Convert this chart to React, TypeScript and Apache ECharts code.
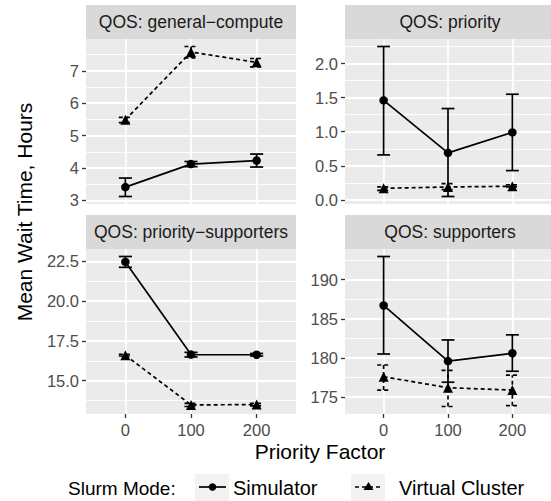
import React, { useEffect, useRef } from 'react';
import * as echarts from 'echarts';

const FONT = '"Liberation Sans", Arial, Helvetica, sans-serif';

// ---- data ----
const priorityFactors = [0, 100, 200];
const xTickValues = [0, 100, 200];
const panelTitles = ['QOS: general\u2212compute', 'QOS: priority', 'QOS: priority\u2212supporters', 'QOS: supporters'];
const seriesNames = ['Simulator', 'Virtual Cluster'];

// general-compute
const gcSimMean = [3.41, 4.12, 4.23];
const gcSimLow = [3.12, 4.04, 4.03];
const gcSimHigh = [3.69, 4.2, 4.43];
const gcVcMean = [5.49, 7.58, 7.26];
const gcVcLow = [5.4, 7.4, 7.12];
const gcVcHigh = [5.56, 7.75, 7.38];
// priority
const prSimMean = [1.46, 0.69, 0.99];
const prSimLow = [0.66, 0.05, 0.43];
const prSimHigh = [2.25, 1.34, 1.55];
const prVcMean = [0.17, 0.19, 0.2];
const prVcLow = [0.14, 0.15, 0.19];
const prVcHigh = [0.19, 0.24, 0.22];
// priority-supporters
const psSimMean = [22.46, 16.64, 16.63];
const psSimLow = [22.12, 16.49, 16.55];
const psSimHigh = [22.8, 16.78, 16.71];
const psVcMean = [16.6, 13.48, 13.5];
const psVcLow = [16.55, 13.38, 13.42];
const psVcHigh = [16.66, 13.58, 13.58];
// supporters
const suSimMean = [186.7, 179.6, 180.6];
const suSimLow = [180.5, 176.9, 178.3];
const suSimHigh = [192.95, 182.3, 182.95];
const suVcMean = [177.6, 176.2, 175.9];
const suVcLow = [175.9, 173.8, 173.9];
const suVcHigh = [179.1, 178.4, 177.8];

// tick values
const gcMajor = [3, 4, 5, 6, 7];
const gcMinor = [2.5, 3.5, 4.5, 5.5, 6.5, 7.5];
const prMajor = [0, 0.5, 1, 1.5, 2];
const prMinor = [0.25, 0.75, 1.25, 1.75, 2.25];
const psMajor = [15, 17.5, 20, 22.5];
const psMinor = [13.75, 16.25, 18.75, 21.25];
const suMajor = [175, 180, 185, 190];
const suMinor = [177.5, 182.5, 187.5, 192.5];

const panels = [
  { title: panelTitles[0], sim: [gcSimMean, gcSimLow, gcSimHigh], vc: [gcVcMean, gcVcLow, gcVcHigh], major: gcMajor, minor: gcMinor, dec: 0 },
  { title: panelTitles[1], sim: [prSimMean, prSimLow, prSimHigh], vc: [prVcMean, prVcLow, prVcHigh], major: prMajor, minor: prMinor, dec: 1 },
  { title: panelTitles[2], sim: [psSimMean, psSimLow, psSimHigh], vc: [psVcMean, psVcLow, psVcHigh], major: psMajor, minor: psMinor, dec: 1 },
  { title: panelTitles[3], sim: [suSimMean, suSimLow, suSimHigh], vc: [suVcMean, suVcLow, suVcHigh], major: suMajor, minor: suMinor, dec: 0 },
];

// ---- layout ----
const PANEL_W = 210;
const PANEL_H = 165;
const STRIP_H = 34;
const lefts = [86, 345, 86, 345];
const tops = [39, 39, 249, 249];
const LINE_W = 1.7;
const DASH = [4, 3];
const TICK_FS = 16.5;
const STRIP_FS = 17.5;
const TITLE_FS = 21;
const LEGEND_TITLE_FS = 19;
const LEGEND_FS = 20;

function rangeOf(p: any) {
  const all = [...p.sim[1], ...p.sim[2], ...p.vc[1], ...p.vc[2]];
  const lo = Math.min(...all);
  const hi = Math.max(...all);
  const pad = (hi - lo) * 0.05;
  return [lo - pad, hi + pad];
}

function errorBarRender(dashed: boolean) {
  return (params: any, api: any) => {
    const x = api.value(0);
    const lo = api.value(1);
    const hi = api.value(2);
    const pLo = api.coord([x, lo]);
    const pHi = api.coord([x, hi]);
    const half = api.coord([x + 10, lo])[0] - pLo[0];
    const style = { stroke: '#000', lineWidth: LINE_W, lineDash: dashed ? DASH : null, fill: null };
    return {
      type: 'group',
      children: [
        { type: 'line', shape: { x1: pLo[0], y1: pLo[1], x2: pHi[0], y2: pHi[1] }, style },
        { type: 'line', shape: { x1: pLo[0] - half, y1: pLo[1], x2: pLo[0] + half, y2: pLo[1] }, style },
        { type: 'line', shape: { x1: pHi[0] - half, y1: pHi[1], x2: pHi[0] + half, y2: pHi[1] }, style },
      ],
    };
  };
}

export default function App() {
  const ref = useRef<HTMLDivElement>(null);
  useEffect(() => {
    if (!ref.current) return;
    const chart = echarts.init(ref.current, null, { renderer: 'svg' });
    const grid: any[] = [];
    const xAxis: any[] = [];
    const yAxis: any[] = [];
    const series: any[] = [];
    const graphic: any[] = [];

    panels.forEach((p, i) => {
      const [ymin, ymax] = rangeOf(p);
      const bottomRow = i >= 2;
      grid.push({
        left: lefts[i], top: tops[i], width: PANEL_W, height: PANEL_H,
        show: true, backgroundColor: '#EBEBEB', borderWidth: 0,
      });
      xAxis.push({
        type: 'value', gridIndex: i, min: -60, max: 260,
        axisLine: { show: false },
        axisTick: { show: bottomRow, customValues: xTickValues, length: 4, lineStyle: { color: '#333333', width: 1.3 } },
        axisLabel: { show: bottomRow, customValues: xTickValues, margin: 7, color: '#4D4D4D', fontSize: TICK_FS, fontFamily: FONT },
        splitLine: { show: true, lineStyle: { color: '#FFFFFF', width: 1.8 } },
      });
      // minor grid axis
      yAxis.push({
        type: 'value', gridIndex: i, min: ymin, max: ymax, position: 'left',
        axisLine: { show: false },
        axisTick: { show: false, customValues: p.minor },
        axisLabel: { show: false, customValues: p.minor },
        splitLine: { show: true, lineStyle: { color: '#FFFFFF', width: 0.9 } },
        z: 0,
      });
      // major axis
      yAxis.push({
        type: 'value', gridIndex: i, min: ymin, max: ymax, position: 'left',
        axisLine: { show: false },
        axisTick: { show: true, customValues: p.major, length: 4, lineStyle: { color: '#333333', width: 1.3 } },
        axisLabel: {
          show: true, customValues: p.major, margin: 7, color: '#4D4D4D', fontSize: TICK_FS, fontFamily: FONT,
          formatter: (v: number) => v.toFixed(p.dec),
        },
        splitLine: { show: true, lineStyle: { color: '#FFFFFF', width: 1.8 } },
        z: 1,
      });
      const yMajorIdx = i * 2 + 1;
      [p.sim, p.vc].forEach((s, k) => {
        const dashed = k === 1;
        series.push({
          type: 'custom', name: seriesNames[k], xAxisIndex: i, yAxisIndex: yMajorIdx,
          renderItem: errorBarRender(dashed),
          data: priorityFactors.map((x, j) => [x, s[1][j], s[2][j]]),
          z: 3, silent: true,
        });
        series.push({
          type: 'line', name: seriesNames[k], xAxisIndex: i, yAxisIndex: yMajorIdx,
          data: priorityFactors.map((x, j) => [x, s[0][j]]),
          symbol: dashed ? 'triangle' : 'circle', symbolSize: dashed ? 10 : 8.5,
          itemStyle: { color: '#000000' },
          lineStyle: { color: '#000000', width: LINE_W, type: dashed ? DASH : 'solid' },
          z: 4, silent: true,
        });
      });
      // strip
      graphic.push({
        type: 'rect', shape: { x: lefts[i], y: tops[i] - STRIP_H, width: PANEL_W, height: STRIP_H },
        style: { fill: '#D9D9D9' }, silent: true,
      });
      graphic.push({
        type: 'text', x: lefts[i] + PANEL_W / 2, y: tops[i] - STRIP_H / 2,
        style: { text: p.title, fill: '#1A1A1A', font: `${STRIP_FS}px ${FONT}`, textAlign: 'center', textVerticalAlign: 'middle' },
        silent: true,
      });
    });

    // axis titles
    graphic.push({
      type: 'text', x: 24, y: 212, rotation: Math.PI / 2,
      style: { text: 'Mean Wait Time, Hours', fill: '#000', font: `${TITLE_FS}px ${FONT}`, textAlign: 'center', textVerticalAlign: 'middle' },
    });
    graphic.push({
      type: 'text', x: 320, y: 451,
      style: { text: 'Priority Factor', fill: '#000', font: `${TITLE_FS}px ${FONT}`, textAlign: 'center', textVerticalAlign: 'middle' },
    });
    // legend
    const LY = 488;
    graphic.push({ type: 'text', x: 68, y: LY, style: { text: 'Slurm Mode:', fill: '#000', font: `${LEGEND_TITLE_FS}px ${FONT}`, textVerticalAlign: 'middle' } });
    graphic.push({ type: 'rect', shape: { x: 195, y: 474, width: 34, height: 27 }, style: { fill: '#F2F2F2' } });
    graphic.push({ type: 'line', shape: { x1: 199, y1: LY - 1, x2: 226, y2: LY - 1 }, style: { stroke: '#000', lineWidth: LINE_W } });
    graphic.push({ type: 'circle', shape: { cx: 212.5, cy: LY - 1, r: 3.8 }, style: { fill: '#000' } });
    graphic.push({ type: 'text', x: 233, y: LY, style: { text: seriesNames[0], fill: '#000', font: `${LEGEND_FS}px ${FONT}`, textVerticalAlign: 'middle' } });
    graphic.push({ type: 'rect', shape: { x: 351, y: 474, width: 34, height: 27 }, style: { fill: '#F2F2F2' } });
    graphic.push({ type: 'line', shape: { x1: 355, y1: LY - 1, x2: 382, y2: LY - 1 }, style: { stroke: '#000', lineWidth: LINE_W, lineDash: DASH } });
    graphic.push({ type: 'polygon', shape: { points: [[368.5, LY - 6], [373.5, LY + 2], [363.5, LY + 2]] }, style: { fill: '#000' } });
    graphic.push({ type: 'text', x: 399, y: LY, style: { text: seriesNames[1], fill: '#000', font: `${LEGEND_FS}px ${FONT}`, textVerticalAlign: 'middle' } });

    chart.setOption({
      animation: false,
      backgroundColor: '#FFFFFF',
      grid, xAxis, yAxis, series, graphic,
    });
    return () => chart.dispose();
  }, []);
  return <div ref={ref} style={{ position: 'fixed', left: 0, top: 0, width: 551, height: 501 }} />;
}
